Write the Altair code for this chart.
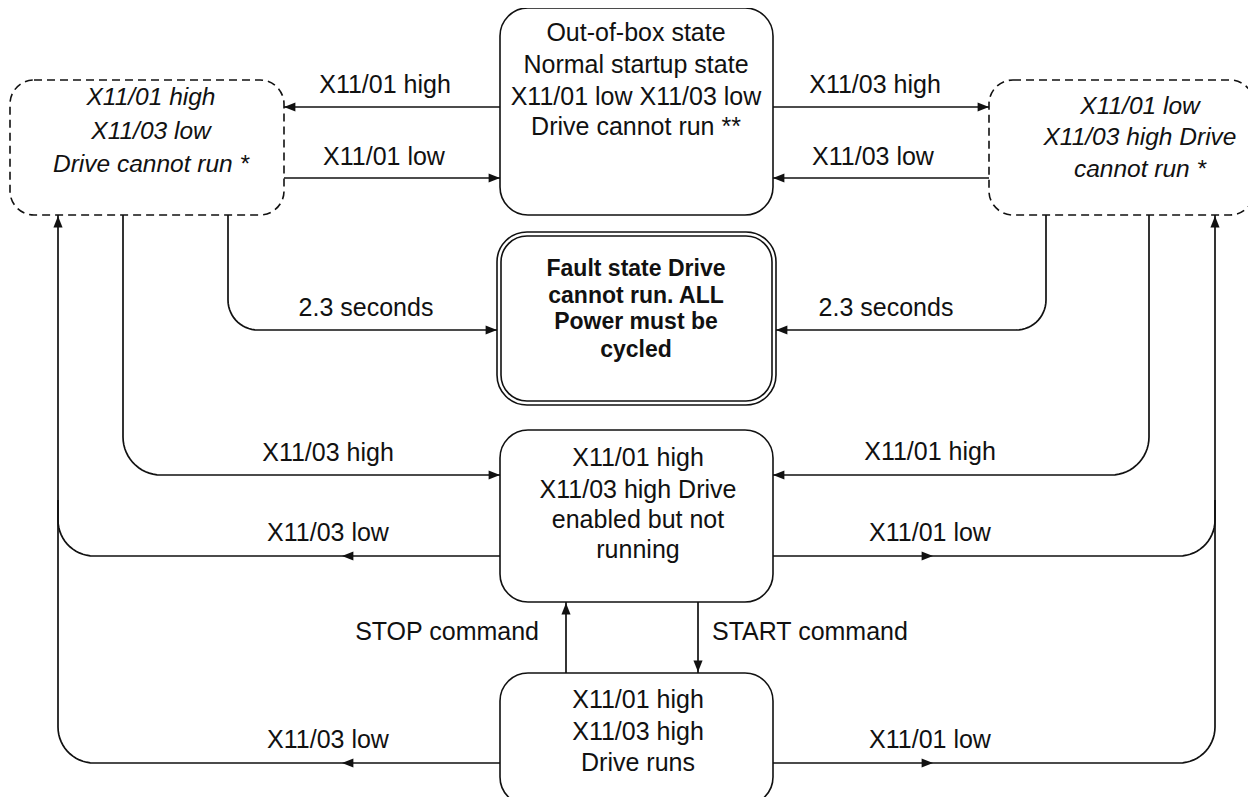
import altair as alt
import numpy as np
import pandas as pd

# ---------------- data ----------------
# state boxes (pixel space of the 1256x805 picture)
box_id = ["top", "left", "right", "fault_o", "fault_i", "enabled", "runs"]
box_x0 = [500, 10, 989, 497, 501, 500, 500]
box_x1 = [773, 284, 1254, 776, 772, 773, 773]
box_y0 = [8, 80, 80, 232, 236, 430, 673]
box_y1 = [215, 215, 215, 405, 401, 602, 805]
box_kind = ["solid", "dashed", "dashed", "outer", "inner", "solid", "solid"]

# box texts
node_text = [
    "Out-of-box state", "Normal startup state", "X11/01 low X11/03 low", "Drive cannot run **",
    "X11/01 high", "X11/03 low", "Drive cannot run *",
    "X11/01 low", "X11/03 high Drive", "cannot run *",
    "Fault state Drive", "cannot run. ALL", "Power must be", "cycled",
    "X11/01 high", "X11/03 high Drive", "enabled but not", "running",
    "X11/01 high", "X11/03 high", "Drive runs",
]
node_tx = [636] * 4 + [151] * 3 + [1140] * 3 + [636] * 4 + [638] * 4 + [638] * 3
node_ty = [33, 65, 97, 127, 98, 132, 165, 107, 138, 170, 269, 296, 322, 350,
           458, 490, 520, 550, 700, 732, 763]
node_style = ["normal"] * 4 + ["italic"] * 6 + ["bold"] * 4 + ["normal"] * 7

# transitions: waypoints
edge_pts = [
    [(500, 107), (284, 107)],
    [(284, 178), (500, 178)],
    [(773, 107), (989, 107)],
    [(989, 178), (773, 178)],
    [(228, 215), (228, 330), (497, 330)],
    [(1046, 215), (1046, 330), (776, 330)],
    [(123, 215), (123, 475), (500, 475)],
    [(1149, 215), (1149, 475), (773, 475)],
    [(500, 556), (58, 556), (58, 215)],
    [(500, 763), (58, 763), (58, 500)],
    [(773, 556), (1215, 556), (1215, 215)],
    [(773, 763), (1215, 763), (1215, 500)],
    [(566, 673), (566, 602)],
    [(698, 602), (698, 673)],
]
edge_radius = [0, 0, 0, 0, 30, 30, 38, 38, 36, 36, 36, 36, 0, 0]

# arrow heads: tip position and direction (deg, clockwise from right)
arrow_x = [284, 500, 989, 773, 497, 776, 500, 773, 342, 342, 58, 933, 933, 1215, 566, 698]
arrow_y = [107, 178, 107, 178, 330, 330, 475, 475, 556, 763, 216, 556, 763, 216, 603, 672]
arrow_dir = [180, 0, 0, 180, 0, 180, 0, 180, 180, 180, 270, 0, 0, 270, 270, 90]

# edge labels
label_text = ["X11/01 high", "X11/01 low", "X11/03 high", "X11/03 low",
              "2.3 seconds", "2.3 seconds",
              "X11/03 high", "X11/03 low", "X11/01 high", "X11/01 low",
              "X11/03 low", "X11/01 low"]
label_x = [385, 384, 875, 873, 366, 886, 328, 328, 930, 930, 328, 930]
label_y = [85, 157, 85, 157, 308, 308, 453, 533, 452, 533, 740, 740]

cmd_text = ["STOP command", "START command"]
cmd_x = [539, 712]
cmd_y = [632, 632]

# ---------------- build tables ----------------
def rounded(pts, r):
    pts = [np.array(p, dtype=float) for p in pts]
    out = [pts[0]]
    for i in range(1, len(pts) - 1):
        p0, p1, p2 = pts[i - 1], pts[i], pts[i + 1]
        d1 = (p1 - p0) / np.linalg.norm(p1 - p0)
        d2 = (p2 - p1) / np.linalg.norm(p2 - p1)
        a = p1 - d1 * r
        c = a + d2 * r
        for th in np.linspace(0, np.pi / 2, 16):
            out.append(c - d2 * r * np.cos(th) + d1 * r * np.sin(th))
    out.append(pts[-1])
    return out

rows = []
for k, (pts, r) in enumerate(zip(edge_pts, edge_radius)):
    for j, p in enumerate(rounded(pts, r)):
        rows.append({"edge": k, "seq": j, "x": p[0], "y": p[1]})
edges = pd.DataFrame(rows)

boxes = pd.DataFrame({"id": box_id, "x0": box_x0, "x1": box_x1,
                      "y0": box_y0, "y1": box_y1, "kind": box_kind})
nodes = pd.DataFrame({"t": node_text, "x": node_tx, "y": node_ty, "s": node_style})
arrows = pd.DataFrame({"x": arrow_x, "y": arrow_y, "a": arrow_dir})
labels = pd.DataFrame({"t": label_text, "x": label_x, "y": label_y})
cmds = pd.DataFrame({"t": cmd_text, "x": cmd_x, "y": cmd_y})

xs = alt.Scale(domain=[8, 1248], nice=False, zero=False)
ys = alt.Scale(domain=[8, 797], nice=False, zero=False, reverse=True)
X = lambda f: alt.X(f, type="quantitative", scale=xs, axis=None)
Y = lambda f: alt.Y(f, type="quantitative", scale=ys, axis=None)

FONT = "Liberation Sans"
FS = 25
INK = "#111111"

lines = alt.Chart(edges).mark_line(color=INK, strokeWidth=1.7).encode(
    x=X("x"), y=Y("y"), detail="edge:N", order="seq:Q")

def box_layer(kind, radius, dash=None):
    kw = dict(cornerRadius=radius, fill="white", stroke=INK, strokeWidth=1.6)
    if dash:
        kw["strokeDash"] = dash
    return alt.Chart(boxes).transform_filter(alt.datum.kind == kind).mark_rect(**kw).encode(
        x=X("x0"), x2="x1", y=Y("y0"), y2="y1")

rect_solid = box_layer("solid", 28)
rect_dash = box_layer("dashed", 24, [8, 5])
rect_outer = box_layer("outer", 30)
rect_inner = box_layer("inner", 26)

heads = alt.Chart(arrows).mark_point(
    shape="M0,0L-2,-0.8L-2,0.8Z", filled=True, color=INK, opacity=1, size=130, strokeWidth=0
).encode(x=X("x"), y=Y("y"), angle=alt.Angle("a:Q", scale=None))

def text_layer(df, style=None, align="center", size=FS, **extra):
    c = alt.Chart(df)
    if style is not None:
        c = c.transform_filter(alt.datum.s == style)
    return c.mark_text(font=FONT, fontSize=size, color=INK, align=align,
                       baseline="middle", **extra).encode(x=X("x"), y=Y("y"), text="t:N")

t_norm = text_layer(nodes, "normal")
t_ital = text_layer(nodes, "italic", size=24.5, fontStyle="italic")
t_bold = text_layer(nodes, "bold", size=23, fontWeight="bold")
t_lab = text_layer(labels)
t_stop = text_layer(cmds[cmds.t.str.startswith("STOP")], align="right")
t_start = text_layer(cmds[cmds.t.str.startswith("START")], align="left")

chart = alt.layer(
    lines, rect_outer, rect_inner, rect_solid, rect_dash, heads,
    t_norm, t_ital, t_bold, t_lab, t_stop, t_start
).properties(
    width=1240, height=789, padding=0,
    autosize=alt.AutoSizeParams(type="none"),
    background="white",
).configure_view(stroke=None)

chart.save("out.html", embed_options={"renderer": "svg", "actions": False})
